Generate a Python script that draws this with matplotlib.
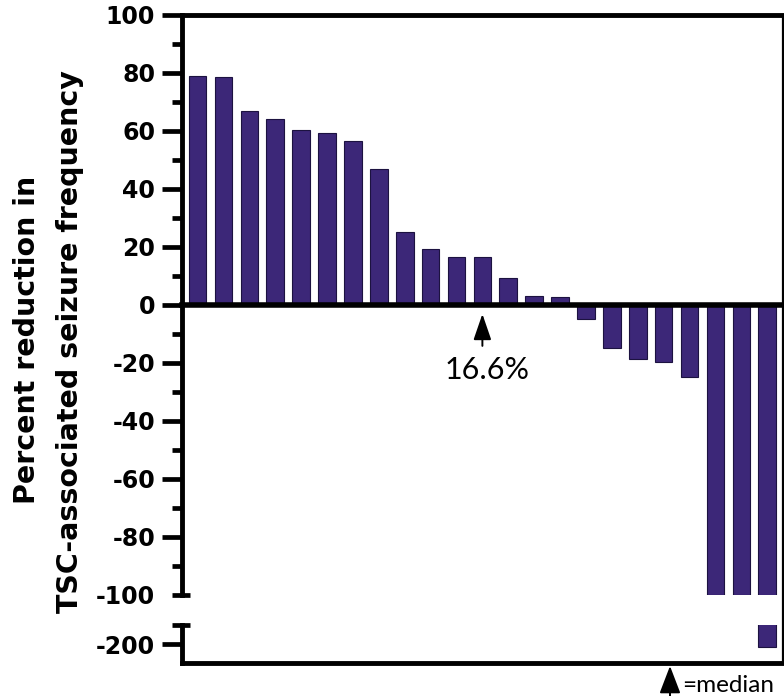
import numpy as np
import matplotlib
matplotlib.use("Agg")
import matplotlib.pyplot as plt
import matplotlib.transforms as mtransforms
from matplotlib.lines import Line2D

plt.rcParams['axes.unicode_minus'] = False

# percent reduction per patient, sorted (last one is off scale, ~ -208)
reduction = [79.0, 78.7, 66.9, 64.2, 60.2, 59.2, 56.4, 46.8, 25.2, 19.2,
             16.6, 16.6, 9.2, 3.1, 2.8,
             -4.8, -14.8, -18.6, -19.8, -24.9, -100.0, -100.0, -208.0]
median_idx = 11
median_label = '16.6%'
top_ticks = [-100, -80, -60, -40, -20, 0, 20, 40, 60, 80, 100]
low_ticks = [-200]

bar_color = '#3c2778'
W, H = 784, 696
fig = plt.figure(figsize=(W / 100, H / 100), dpi=100)

ax = fig.add_axes([182 / W, 101 / H, 600 / W, 580 / H])
ax2 = fig.add_axes([182 / W, 33 / H, 600 / W, 38 / H])

x = np.arange(len(reduction))
for a in (ax, ax2):
    a.bar(x, reduction, width=0.68, color=bar_color, edgecolor='#1c1240', linewidth=0.8)
    a.set_xlim(-0.6, 22.57)
    a.set_xticks([])
    a.spines['right'].set_visible(False)
    a.tick_params(axis='y', which='major', length=14.4, width=3.4, pad=5,
                  direction='out')
    a.tick_params(axis='y', which='minor', length=7.2, width=3.4, direction='out')

# upper part
ax.set_ylim(-100, 100)
ax.set_yticks(top_ticks)
ax.set_yticks(np.arange(-90, 100, 20), minor=True)
ax.set_yticklabels([str(t) for t in top_ticks], fontweight='bold', fontsize=17,
                   family='DejaVu Sans')
ax.spines['bottom'].set_visible(False)
for s in ('left', 'top'):
    ax.spines[s].set_linewidth(3.5)
ax.axhline(0, color='black', lw=4, zorder=3, clip_on=False)
ax.yaxis.get_major_ticks()[0].tick1line.set_visible(False)

# lower part
ax2.set_ylim(-250, -150)
ax2.set_yticks(low_ticks)
ax2.set_yticklabels([str(t) for t in low_ticks], fontweight='bold', fontsize=17,
                    family='DejaVu Sans')
ax2.spines['top'].set_visible(False)
for s in ('left', 'bottom'):
    ax2.spines[s].set_linewidth(3.5)

# caps at the axis break
tr1 = mtransforms.blended_transform_factory(fig.transFigure, ax.transData)
ax.plot([172 / W, 190 / W], [-100, -100], color='black', lw=3.4,
        transform=tr1, clip_on=False, solid_capstyle='butt')
tr2 = mtransforms.blended_transform_factory(fig.transFigure, ax2.transData)
ax2.plot([172 / W, 190 / W], [-150, -150], color='black', lw=3.4,
         transform=tr2, clip_on=False, solid_capstyle='butt')

# right border
fig.add_artist(Line2D([783 / W, 783 / W], [1 - 15 / H, 1 - 663 / H],
                      color='black', lw=1.6, transform=fig.transFigure))

# median arrow and value
ax.annotate('', xy=(median_idx, -3.1), xytext=(median_idx, -14.1),
            arrowprops=dict(arrowstyle='-|>,head_length=1.6,head_width=0.55',
                            color='black', lw=1.4, shrinkA=0, shrinkB=0))
ax.text(median_idx + 0.18, -22.5, median_label, ha='center', va='center',
        fontsize=22, family=['Lato', 'DejaVu Sans'])

# legend: arrow = median
fig.add_artist(matplotlib.patches.FancyArrowPatch(
    (670 / W, -0.01), (670 / W, 1 - 666 / H), transform=fig.transFigure,
    arrowstyle='-|>,head_length=17,head_width=6.5', color='black', lw=1.4,
    shrinkA=0, shrinkB=0))
fig.text(682 / W, 1 - 686 / H, '=median', ha='left', va='center', fontsize=17.5,
         family=['Lato', 'DejaVu Sans'])

# y label, two lines
fig.text(27 / W, 1 - 340 / H, 'Percent reduction in', rotation=90,
         ha='center', va='center', fontsize=20.5, fontweight='bold', family='DejaVu Sans')
fig.text(70 / W, 1 - 342 / H, 'TSC-associated seizure frequency', rotation=90,
         ha='center', va='center', fontsize=20.5, fontweight='bold', family='DejaVu Sans')

fig.savefig('out.png', dpi=100)
